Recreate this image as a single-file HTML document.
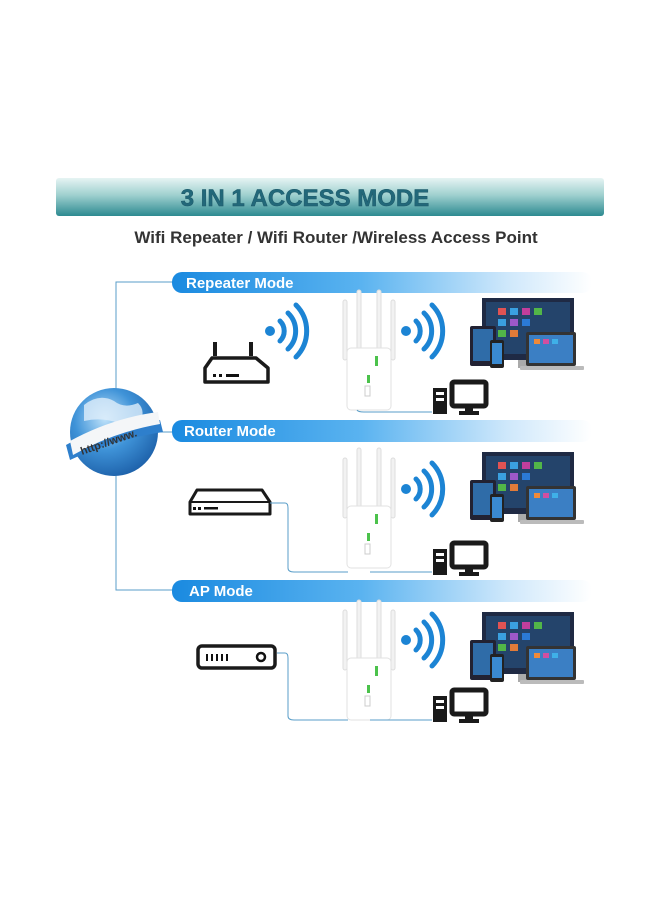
<!DOCTYPE html>
<html><head><meta charset="utf-8"><style>
html,body{margin:0;padding:0;background:#fff;width:660px;height:900px;overflow:hidden}
svg{display:block}
text{font-family:"Liberation Sans",Arial,sans-serif;font-weight:bold}
</style></head><body>
<svg width="660" height="900" viewBox="0 0 660 900" xmlns="http://www.w3.org/2000/svg">
<defs>
<linearGradient id="hdr" x1="0" y1="0" x2="0" y2="1">
<stop offset="0" stop-color="#e6f4f3"/><stop offset="0.45" stop-color="#9fd0cf"/><stop offset="1" stop-color="#2d8a90"/></linearGradient>
<linearGradient id="pill" x1="0" y1="0" x2="1" y2="0">
<stop offset="0" stop-color="#1a8ae0"/><stop offset="0.45" stop-color="#5ab3f0"/><stop offset="0.8" stop-color="#cfe8fb"/><stop offset="1" stop-color="#fff"/></linearGradient>
<radialGradient id="glb" cx="0.4" cy="0.35" r="0.7">
<stop offset="0" stop-color="#bfe2fa"/><stop offset="0.5" stop-color="#3f93d8"/><stop offset="1" stop-color="#1c5fa8"/></radialGradient>
<g id="waves" fill="none" stroke="#1c84d4" stroke-width="5" stroke-linecap="round">
<circle cx="0" cy="0" r="5" fill="#1c84d4" stroke="none"/>
<path d="M10,-10 A14,14 0 0 1 10,10"/><path d="M18,-18 A25,25 0 0 1 18,18"/><path d="M26,-26 A37,37 0 0 1 26,26"/>
</g>
<g id="ext">
<rect x="0" y="0" width="4" height="60" rx="2" fill="#f2f2f2" stroke="#ddd"/>
<rect x="14" y="-10" width="4" height="65" rx="2" fill="#f2f2f2" stroke="#ddd"/>
<rect x="34" y="-10" width="4" height="65" rx="2" fill="#f2f2f2" stroke="#ddd"/>
<rect x="48" y="0" width="4" height="60" rx="2" fill="#f2f2f2" stroke="#ddd"/>
<rect x="4" y="48" width="44" height="62" rx="4" fill="#fff" stroke="#e2e2e2"/>
<rect x="32" y="56" width="3" height="10" fill="#4cc24c"/>
<rect x="24" y="75" width="3" height="8" fill="#4cc24c"/>
<rect x="22" y="86" width="5" height="10" fill="none" stroke="#ccc"/>
</g>
<g id="mon">
<rect x="12" y="0" width="92" height="62" fill="#1f2a44"/>
<rect x="16" y="4" width="84" height="52" fill="#24446b"/>
<rect x="28" y="10" width="8" height="7" fill="#e05353"/><rect x="40" y="10" width="8" height="7" fill="#3aa0e0"/><rect x="52" y="10" width="8" height="7" fill="#c13e9c"/><rect x="64" y="10" width="8" height="7" fill="#52b648"/>
<rect x="28" y="21" width="8" height="7" fill="#3aa0e0"/><rect x="40" y="21" width="8" height="7" fill="#9c58c9"/><rect x="52" y="21" width="8" height="7" fill="#2b7ad6"/>
<rect x="28" y="32" width="8" height="7" fill="#52b648"/><rect x="40" y="32" width="8" height="7" fill="#e07b39"/>
<rect x="48" y="62" width="20" height="8" fill="#aaa"/>
<rect x="0" y="28" width="26" height="40" rx="2" fill="#223"/><rect x="3" y="31" width="20" height="32" fill="#2f6ca8"/>
<rect x="20" y="42" width="14" height="28" rx="2" fill="#222"/><rect x="22" y="45" width="10" height="21" fill="#3a8ad0"/>
<rect x="56" y="34" width="50" height="34" rx="2" fill="#333"/><rect x="59" y="37" width="44" height="28" fill="#3b7fc4"/>
<rect x="64" y="41" width="6" height="5" fill="#f08a3a"/><rect x="73" y="41" width="6" height="5" fill="#d04fa0"/><rect x="82" y="41" width="6" height="5" fill="#3fb0e8"/>
<rect x="50" y="68" width="64" height="4" rx="1" fill="#bbb"/>
</g>
<g id="pc">
<rect x="0" y="6" width="14" height="26" fill="#1a1a1a"/>
<rect x="3" y="10" width="8" height="3" fill="#fff"/><rect x="3" y="16" width="8" height="3" fill="#fff"/>
<rect x="19" y="0" width="34" height="24" rx="2" fill="none" stroke="#1a1a1a" stroke-width="5"/>
<rect x="32" y="24" width="8" height="6" fill="#1a1a1a"/><rect x="26" y="29" width="20" height="4" fill="#1a1a1a"/>
</g>
</defs>

<rect x="56" y="178" width="548" height="38" rx="3" fill="url(#hdr)"/>
<text x="305" y="206" font-size="24" text-anchor="middle" fill="#22687a" stroke="#1d5868" stroke-width="0.5">3 IN 1 ACCESS MODE</text>
<text x="336" y="243" font-size="17" text-anchor="middle" fill="#333">Wifi Repeater / Wifi Router /Wireless Access Point</text>

<!-- connector lines -->
<g fill="none" stroke="#5a9ec8" stroke-width="1">
<path d="M176,282 H116 V590 H176"/>
<path d="M150,432 H176"/>
</g>

<!-- pills -->
<rect x="172" y="272" width="420" height="21" rx="10" fill="url(#pill)"/>
<text x="186" y="288" font-size="15" fill="#fff">Repeater Mode</text>
<rect x="172" y="420" width="420" height="22" rx="10" fill="url(#pill)"/>
<text x="184" y="436" font-size="15" fill="#fff">Router Mode</text>
<rect x="172" y="580" width="420" height="22" rx="10" fill="url(#pill)"/>
<text x="189" y="596" font-size="15" fill="#fff">AP Mode</text>

<!-- globe -->
<circle cx="114" cy="432" r="44" fill="url(#glb)"/>
<path d="M84,405 q15,-12 30,-4 q10,8 24,2 q8,8 2,18 q-14,-4 -22,2 q-16,-6 -34,-2z" fill="#dfeefa" opacity="0.8"/>
<path d="M66,445 Q110,420 160,420 L163,432 Q112,440 70,460 Z" fill="#2e7fcc"/>
<path d="M70,441 Q112,418 158,412 L160,424 Q114,432 73,455 Z" fill="#f4f6f8"/>
<text x="0" y="0" font-size="11" font-weight="normal" fill="#333" transform="translate(82,455) rotate(-19)">http://www.</text>

<!-- Section 1 -->
<g fill="none" stroke="#1a1a1a" stroke-width="4">
<path d="M215,342 V356 M251,342 V356"/>
<path d="M212,358 H256 L268,368 V382 H205 V368 Z" stroke-width="3.5" stroke-linejoin="round"/>
</g>
<rect x="213" y="374" width="3" height="3" fill="#111"/><rect x="219" y="374" width="3" height="3" fill="#111"/><rect x="226" y="374" width="13" height="3" fill="#111"/>
<use href="#waves" transform="translate(270,331)"/>
<use href="#ext" transform="translate(343,300)"/>
<use href="#waves" transform="translate(406,331)"/>
<use href="#mon" transform="translate(470,298)"/>
<use href="#pc" transform="translate(433,382)"/>
<path d="M357,410 Q358,412 364,412 H432" fill="none" stroke="#5a9ec8" stroke-width="1"/>

<!-- Section 2 -->
<path d="M197,490 H262 L270,502 V514 H190 V502 Z" fill="none" stroke="#1a1a1a" stroke-width="3" stroke-linejoin="round"/>
<path d="M191,502 H269" stroke="#1a1a1a" stroke-width="2"/>
<rect x="193" y="507" width="3" height="3" fill="#111"/><rect x="198" y="507" width="3" height="3" fill="#111"/><rect x="204" y="507" width="14" height="2.5" fill="#111"/>
<use href="#ext" transform="translate(343,458)"/>
<use href="#waves" transform="translate(406,489)"/>
<use href="#mon" transform="translate(470,452)"/>
<use href="#pc" transform="translate(433,543)"/>
<path d="M270,503 H285 Q288,503 288,508 V568 Q288,572 294,572 H348 M370,572 H432" fill="none" stroke="#5a9ec8" stroke-width="1"/>

<!-- Section 3 -->
<rect x="198" y="646" width="77" height="22" rx="4" fill="none" stroke="#1a1a1a" stroke-width="3.5"/>
<g fill="#111"><rect x="206" y="654" width="2" height="7"/><rect x="211" y="654" width="2" height="7"/><rect x="216" y="654" width="2" height="7"/><rect x="221" y="654" width="2" height="7"/><rect x="226" y="654" width="2" height="7"/></g>
<circle cx="261" cy="657" r="4" fill="none" stroke="#111" stroke-width="2.5"/>
<use href="#ext" transform="translate(343,610)"/>
<use href="#waves" transform="translate(406,640)"/>
<use href="#mon" transform="translate(470,612)"/>
<use href="#pc" transform="translate(433,690)"/>
<path d="M277,653 H285 Q288,653 288,658 V716 Q288,720 294,720 H348 M370,720 H432" fill="none" stroke="#5a9ec8" stroke-width="1"/>
</svg>
</body></html>
